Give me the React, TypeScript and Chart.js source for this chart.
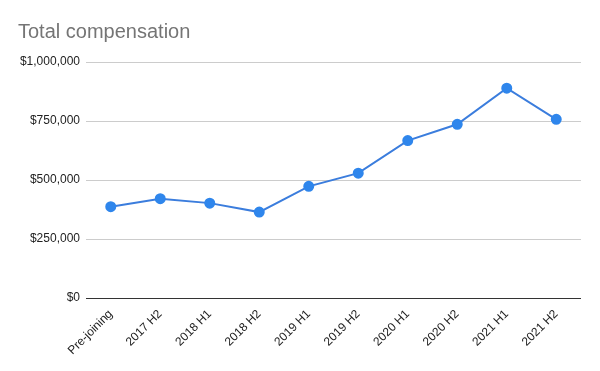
import React, { useEffect, useRef } from "react";
import { Chart, registerables } from "chart.js";

Chart.register(...registerables);

const categories = [
  "Pre-joining",
  "2017 H2",
  "2018 H1",
  "2018 H2",
  "2019 H1",
  "2019 H2",
  "2020 H1",
  "2020 H2",
  "2021 H1",
  "2021 H2",
];
const compensation = [387000, 421000, 402000, 364000, 473000, 529000, 667000, 736000, 889000, 757000];
const yTicks = [0, 250000, 500000, 750000, 1000000];
const titleText = "Total compensation";

const fmt = (v: number) => "$" + v.toLocaleString("en-US");

export default function App() {
  const ref = useRef<HTMLCanvasElement | null>(null);
  useEffect(() => {
    document.body.style.margin = "0";
    const ctx = ref.current!;
    const chart = new Chart(ctx, {
      type: "line",
      data: {
        labels: categories,
        datasets: [
          {
            data: compensation,
            borderColor: "#3b7ddd",
            backgroundColor: "#4285f4",
            pointBackgroundColor: "#2f86ec",
            pointBorderColor: "#2f86ec",
            borderWidth: 2,
            pointRadius: 4.5,
            tension: 0,
          },
        ],
      },
      options: {
        animation: false,
        responsive: false,
        maintainAspectRatio: false,
        layout: { padding: { left: 18, right: 19, top: 0, bottom: 0 } },
        plugins: {
          legend: { display: false },
          tooltip: { enabled: false },
          title: {
            display: true,
            text: titleText,
            align: "start",
            color: "#757575",
            font: { family: "Arial, 'Liberation Sans', sans-serif", size: 20, weight: "normal" },
            padding: { top: 20, bottom: 18 },
          },
        },
        scales: {
          x: {
            offset: true,
            afterFit: (s: any) => {
              s.height = 73;
            },
            grid: { display: false },
            border: { display: false },
            ticks: {
              color: "#222",
              font: { family: "Arial, 'Liberation Sans', sans-serif", size: 12 },
              maxRotation: 45,
              minRotation: 45,
              autoSkip: false,
              padding: 1,
            },
          },
          y: {
            min: 0,
            max: 1000000,
            afterFit: (s: any) => {
              s.width = 68;
            },
            afterBuildTicks: (s: any) => {
              s.ticks = yTicks.map((v) => ({ value: v }));
            },
            border: { display: false },
            grid: {
              drawTicks: false,
              color: (c: any) => (c.tick && c.tick.value === 0 ? "#333" : "#cccccc"),
              lineWidth: 1,
            },
            ticks: {
              color: "#222",
              padding: 6,
              font: { family: "Arial, 'Liberation Sans', sans-serif", size: 12 },
              callback: (v: any) => fmt(Number(v)),
            },
          },
        },
      },
    });
    return () => chart.destroy();
  }, []);
  return <canvas ref={ref} width={600} height={371} style={{ display: "block" }} />;
}
